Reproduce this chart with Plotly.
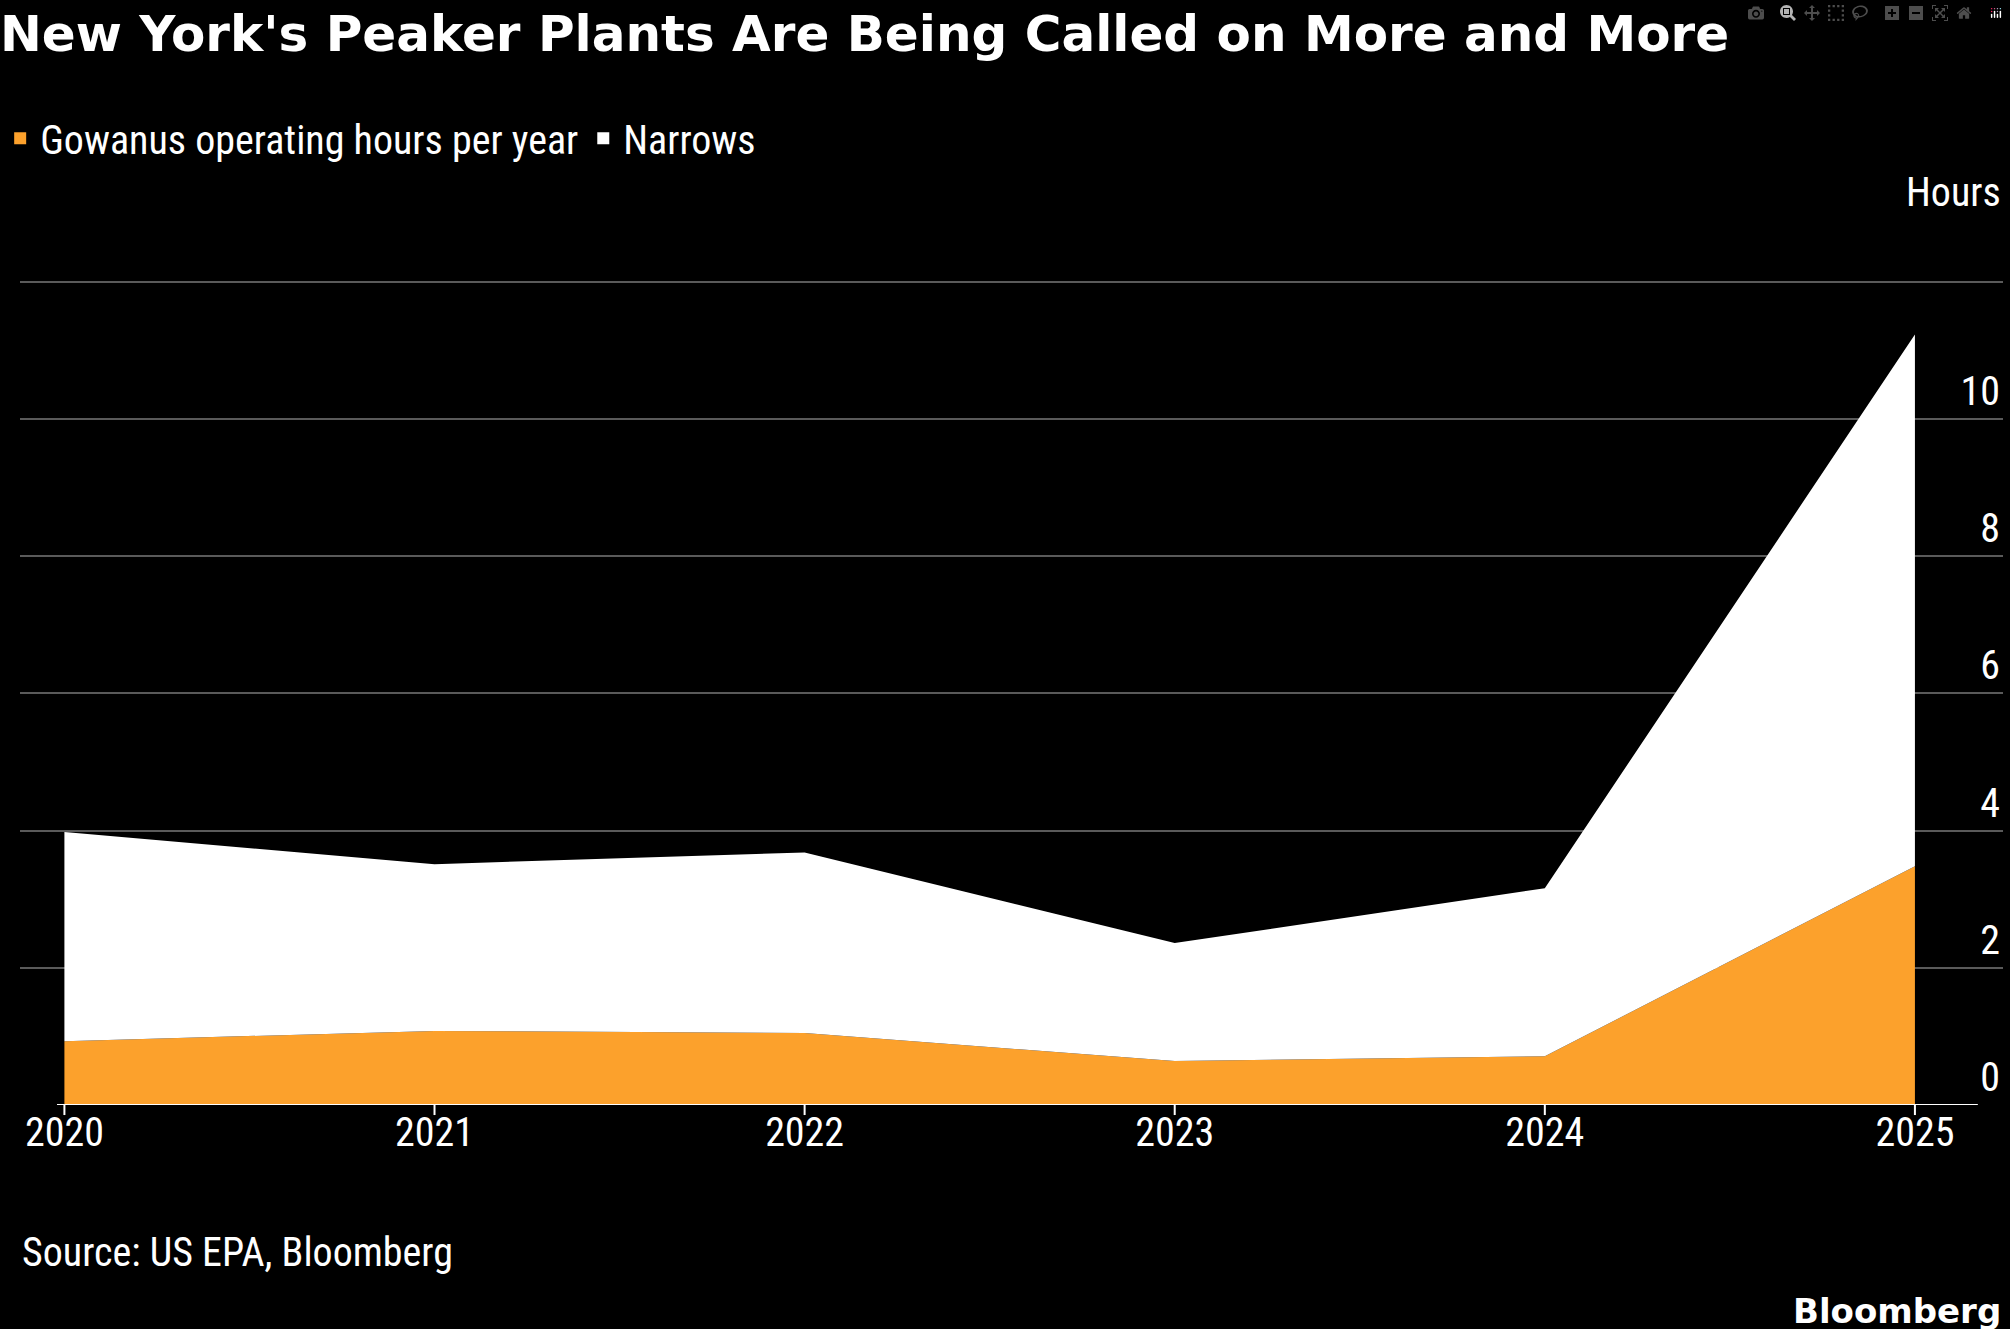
import plotly.graph_objects as go

years = [2020, 2021, 2022, 2023, 2024, 2025]
gowanus = [0.93, 1.08, 1.05, 0.64, 0.71, 3.48]   # thousand hours
narrows = [3.05, 2.43, 2.63, 1.72, 2.45, 7.75]
y_ticks = [0, 2, 4, 6, 8, 10, 12]
y_labels = ["0", "2", "4", "6", "8", "10", "12K"]

FONT = "Liberation Sans Narrow, Roboto Condensed, Roboto, sans-serif"
ORANGE = "#fca12c"

fig = go.Figure()
fig.add_trace(go.Scatter(x=years, y=gowanus, name="Gowanus operating hours per year",
                         stackgroup="a", mode="none", fillcolor=ORANGE, showlegend=False))
fig.add_trace(go.Scatter(x=years, y=narrows, name="Narrows",
                         stackgroup="a", mode="none", fillcolor="#ffffff", showlegend=False))

# square legend swatches
for name, col in [("Gowanus operating hours per year", ORANGE), ("Narrows", "#ffffff")]:
    fig.add_trace(go.Scatter(x=[None], y=[None], mode="markers", name=name,
                             marker=dict(symbol="square", size=26, color=col)))

# baseline and year ticks
fig.add_shape(type="line", xref="x", yref="y", x0=2019.98, x1=2025.17, y0=0, y1=0,
              line=dict(color="white", width=2))
for yr in years:
    fig.add_shape(type="line", xref="x", yref="paper", x0=yr, x1=yr, y0=0, y1=-0.012,
                  line=dict(color="white", width=2))

fig.update_layout(
    width=2010, height=1329,
    paper_bgcolor="black", plot_bgcolor="black",
    font=dict(family=FONT, color="white", size=38),
    margin=dict(l=0, r=7, t=268, b=224),
    title=dict(text="<b>New York's Peaker Plants Are Being Called on More and More</b>",
               x=0.0, xanchor="left", y=0.975, yanchor="middle",
               font=dict(family="DejaVu Sans, sans-serif", size=50, color="white")),
    legend=dict(orientation="h", x=-0.01, y=1.155, xanchor="left", yanchor="middle",
                font=dict(size=40), traceorder="normal", itemsizing="constant"),
    showlegend=True,
    xaxis=dict(range=[2019.88, 2025.238], tickvals=years, ticktext=[str(y) for y in years],
               showgrid=False, zeroline=False, showline=False, ticks="",
               tickfont=dict(size=40), fixedrange=True),
    yaxis=dict(range=[0, 12.2], side="right", tickvals=y_ticks, ticktext=y_labels,
               ticklabelposition="inside top", showgrid=True, gridcolor="#5a5a5a",
               gridwidth=2, zeroline=False, showline=False, tickfont=dict(size=40)),
    annotations=[
        dict(text="Hours", xref="paper", yref="paper", x=1.0, y=1.09, xanchor="right",
             yanchor="middle", showarrow=False, font=dict(size=40)),
        dict(text="Source: US EPA, Bloomberg", xref="paper", yref="paper", x=0.0, y=-0.176,
             xanchor="left", yanchor="middle", showarrow=False, font=dict(size=40)),
        dict(text="<b>Bloomberg</b>", xref="paper", yref="paper", x=1.0, y=-0.246,
             xanchor="right", yanchor="middle", showarrow=False,
             font=dict(family="DejaVu Sans, sans-serif", size=34)),
    ],
)

fig.write_html("out.html")

# drop the browser's default page margin so the figure sits flush
with open("out.html", encoding="utf-8") as f:
    html = f.read()
html = html.replace("<head>", "<head><style>body{margin:0;overflow:hidden;}</style>", 1)
with open("out.html", "w", encoding="utf-8") as f:
    f.write(html)
